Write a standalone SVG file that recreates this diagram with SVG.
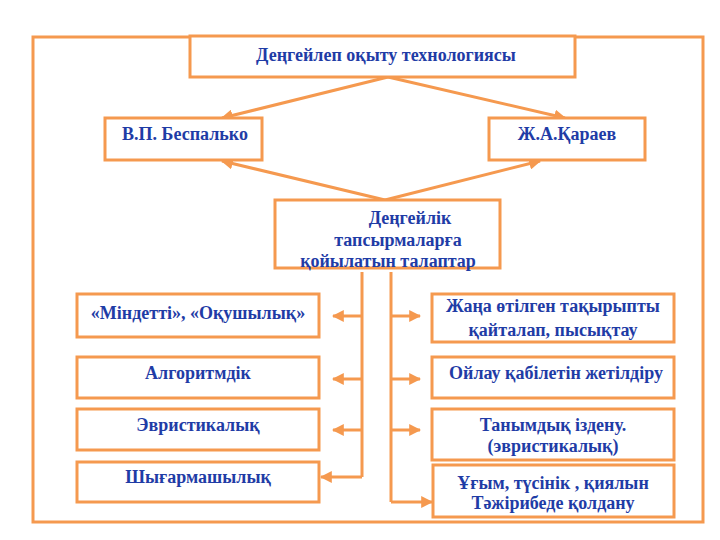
<svg xmlns="http://www.w3.org/2000/svg" width="720" height="540" viewBox="0 0 720 540">
<style>
.box{fill:#fff;stroke:#F5994F;stroke-width:3}
.t{font-family:"Liberation Serif","Times New Roman",serif;font-weight:bold;font-size:18px;fill:#1F3CA6;text-anchor:middle}
.c{stroke:#F5994F;stroke-width:3;fill:none}
</style>
<defs>
<marker id="ah" viewBox="0 0 10 10" refX="9" refY="5" markerWidth="4" markerHeight="4" orient="auto" markerUnits="strokeWidth">
<path d="M0,0 L10,5 L0,10 z" fill="#F5994F"/>
</marker>
</defs>
<rect x="33" y="37" width="670" height="485" fill="#fff" stroke="#F5994F" stroke-width="3"/>
<g id="connectors">
<line class="c" x1="388" y1="77" x2="222" y2="118" marker-end="url(#ah)"/>
<line class="c" x1="388" y1="77" x2="565" y2="118" marker-end="url(#ah)"/>
<line class="c" x1="385" y1="200" x2="222" y2="161" marker-end="url(#ah)"/>
<line class="c" x1="385" y1="200" x2="540" y2="161" marker-end="url(#ah)"/>
<line class="c" x1="362" y1="272" x2="362" y2="477"/>
<line class="c" x1="391" y1="272" x2="391" y2="502"/>
<line class="c" x1="362" y1="316" x2="333" y2="316" marker-end="url(#ah)"/>
<line class="c" x1="362" y1="379" x2="333" y2="379" marker-end="url(#ah)"/>
<line class="c" x1="362" y1="430" x2="333" y2="430" marker-end="url(#ah)"/>
<line class="c" x1="362" y1="477" x2="321" y2="477" marker-end="url(#ah)"/>
<line class="c" x1="391" y1="316" x2="420" y2="316" marker-end="url(#ah)"/>
<line class="c" x1="391" y1="379" x2="420" y2="379" marker-end="url(#ah)"/>
<line class="c" x1="391" y1="430" x2="420" y2="430" marker-end="url(#ah)"/>
<line class="c" x1="391" y1="502" x2="432" y2="502" marker-end="url(#ah)"/>
</g>
<g id="top"><rect class="box" x="190" y="36" width="385" height="41"/><text class="t" x="386" y="61">Деңгейлеп оқыту технологиясы</text></g>
<g id="bespalko"><rect class="box" x="105" y="118" width="157" height="42"/><text class="t" x="185" y="140">В.П. Беспалько</text></g>
<g id="karaev"><rect class="box" x="489" y="118" width="156" height="42"/><text class="t" x="567" y="140">Ж.А.Қараев</text></g>
<g id="center"><rect class="box" x="275" y="200" width="225" height="68"/>
<text class="t" x="410" y="224">Деңгейлік</text>
<text class="t" x="398" y="246">тапсырмаларға</text>
<text class="t" x="388" y="267">қойылатын талаптар</text></g>
<g id="l1"><rect class="box" x="77" y="294" width="242" height="43"/><text class="t" x="198" y="319">«Міндетті», «Оқушылық»</text></g>
<g id="l2"><rect class="box" x="77" y="357" width="242" height="41"/><text class="t" x="198" y="379">Алгоритмдік</text></g>
<g id="l3"><rect class="box" x="77" y="409" width="242" height="41"/><text class="t" x="198" y="431">Эвристикалық</text></g>
<g id="l4"><rect class="box" x="77" y="462" width="242" height="40"/><text class="t" x="198" y="483">Шығармашылық</text></g>
<g id="r1"><rect class="box" x="432" y="294" width="242" height="48"/><text class="t" x="553" y="312">Жаңа өтілген тақырыпты</text><text class="t" x="553" y="336">қайталап, пысықтау</text></g>
<g id="r2"><rect class="box" x="432" y="357" width="242" height="41"/><text class="t" x="556" y="379">Ойлау қабілетін жетілдіру</text></g>
<g id="r3"><rect class="box" x="432" y="409" width="242" height="51"/><text class="t" x="553" y="431">Танымдық іздену.</text><text class="t" x="553" y="452">(эвристикалық)</text></g>
<g id="r4"><rect class="box" x="433" y="465" width="241" height="52"/><text class="t" x="553" y="489">Ұғым, түсінік , қиялын</text><text class="t" x="553" y="509">Тәжірибеде қолдану</text></g>
</svg>
